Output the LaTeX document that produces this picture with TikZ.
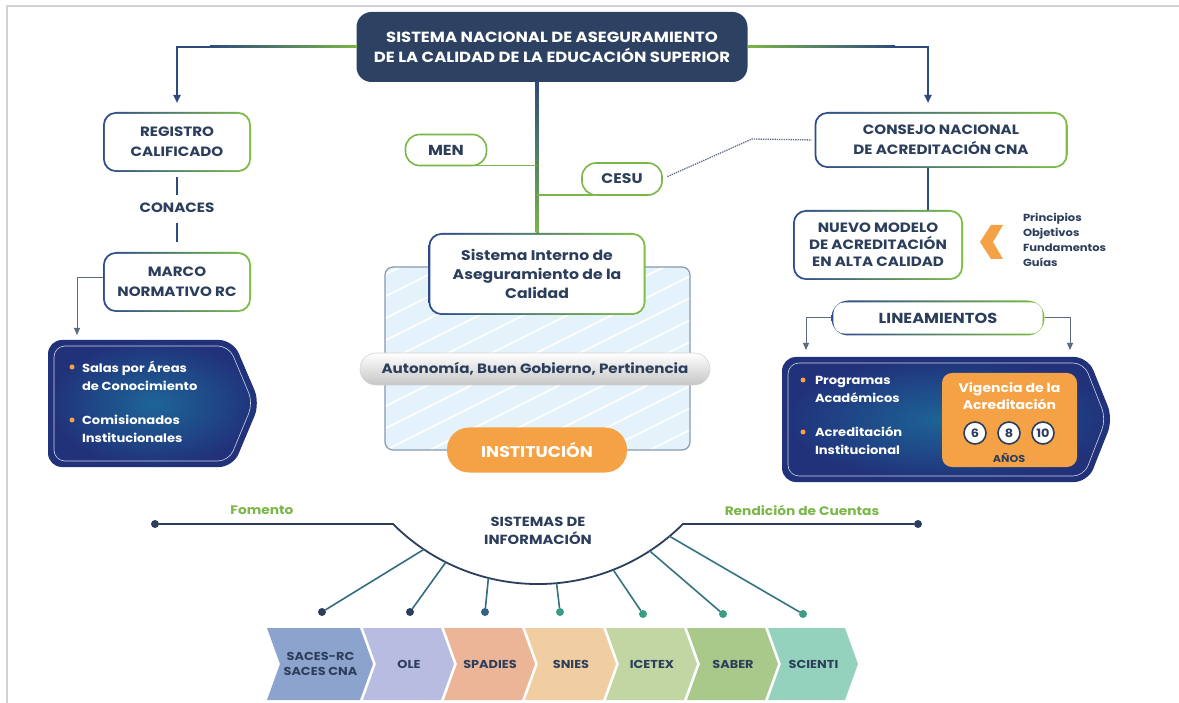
\documentclass[tikz,border=0pt]{standalone}
\usepackage{fontspec}
\setmainfont{Poppins}[FakeStretch=1.12]
\usetikzlibrary{calc,arrows.meta}
\definecolor{navy}{HTML}{2C3E5C}
\definecolor{titlebg}{HTML}{2D4262}
\definecolor{bnavy}{HTML}{2E4A8E}
\definecolor{bgreen}{HTML}{7DC043}
\definecolor{lgreen}{HTML}{7AB648}
\definecolor{orng}{HTML}{F5A246}
\definecolor{hatchc}{HTML}{E4F2FB}
\definecolor{hborder}{HTML}{8799B2}
\definecolor{pdark}{HTML}{21317A}
\definecolor{plight}{HTML}{1D6597}
\definecolor{tealc}{HTML}{3A9E85}
\definecolor{arrc}{HTML}{5B6B82}
\definecolor{linec}{HTML}{2E4A7E}
\definecolor{c1}{HTML}{8CA4CD}
\definecolor{c2}{HTML}{B8BCE0}
\definecolor{c3}{HTML}{EDB598}
\definecolor{c4}{HTML}{F0CEA2}
\definecolor{c5}{HTML}{C1D6A3}
\definecolor{c6}{HTML}{A9C98A}
\definecolor{c7}{HTML}{95D2BE}
\tikzset{
  gbox/.style={rounded corners=13pt, left color=bnavy, right color=bgreen,
    path picture={\fill[white,rounded corners=11.5pt]
      ([shift={(1.8pt,-1.8pt)}]path picture bounding box.north west) rectangle
      ([shift={(-1.8pt,1.8pt)}]path picture bounding box.south east);},
    text=navy, align=center, font=\bfseries\fontsize{13.5}{20}\selectfont},
  titlebox/.style={fill=titlebg, rounded corners=15pt, text=white, align=center,
    font=\bfseries\fontsize{14.7}{20}\selectfont, minimum width=391pt, minimum height=70pt},
  gpill/.style={draw=lgreen, line width=1.6pt, fill=white, rounded corners=14pt,
    text=navy, font=\bfseries\fontsize{14}{16}\selectfont},
  greypill/.style={rounded corners=16pt, top color=white, bottom color=gray!45,
    draw=gray!35, line width=0.6pt, text=navy, minimum width=350pt, minimum height=32pt,
    font=\bfseries\fontsize{13.5}{16}\selectfont},
  arr/.style={draw=arrc, line width=1pt, -{Triangle[length=7pt,width=6pt]}},
  mainline/.style={draw=linec, line width=2pt},
  btext/.style={text=white, align=left, anchor=west, font=\bfseries\fontsize{11.7}{18}\selectfont},
  bdot/.style={circle, fill=orng, minimum size=5pt},
  sdot/.style={circle, minimum size=8pt},
  chevtxt/.style={text=navy, align=center, font=\bfseries\fontsize{11.5}{15}\selectfont},
  ringnum/.style={circle, draw=navy, line width=1.6pt, fill=white, minimum size=22pt,
    text=navy, font=\bfseries\fontsize{11.5}{12}\selectfont},
  every node/.append style={inner sep=0pt, outer sep=0pt}
}
\begin{document}
\begin{tikzpicture}[x=1pt,y=-1pt]
\useasboundingbox (0,0) rectangle (1179,703);
\fill[white] (0,0) rectangle (1179,703);
\draw[gray!35, line width=1.2pt] (7,703) -- (7,6) -- (1179,6);

% hatched institution area
\begin{scope}
\clip[rounded corners=8pt] (385,267) rectangle (690,450);
\fill[hatchc] (385,267) rectangle (690,450);
\foreach \i in {0,...,20} \draw[white, line width=1.6pt] (370,260+\i*22) -- ++(420,-210);
\end{scope}
\draw[hborder, line width=1.2pt, rounded corners=8pt] (385,267) rectangle (690,450);

% left pentagon
\shade[inner color=plight, outer color=pdark, rounded corners=14pt]
  (48,340) -- (233,340) -- (260,403) -- (233,467) -- (48,467) -- cycle;
\draw[white, line width=0.6pt, opacity=0.8, rounded corners=11pt]
  (54,346) -- (229,346) -- (253,403) -- (229,461) -- (54,461) -- cycle;
\node[bdot] at (72,367) {};
\node[bdot] at (72,420) {};
\node[btext] (salas) at (82,376) {Salas por Áreas\\de Conocimiento};
\node[btext] (comis) at (82,429) {Comisionados\\Institucionales};
\coordinate (salasin) at (77,340);

% right pentagon
\shade[inner color=plight, outer color=pdark, rounded corners=14pt]
  (782,357) -- (1088,357) -- (1113,419) -- (1088,482) -- (782,482) -- cycle;
\draw[white, line width=0.6pt, opacity=0.8, rounded corners=11pt]
  (788,363) -- (1084,363) -- (1106,419) -- (1084,476) -- (788,476) -- cycle;
\node[bdot] at (803,380) {};
\node[bdot] at (803,432) {};
\node[btext] (prog) at (815,389) {Programas\\Académicos};
\node[btext] (acred) at (815,441) {Acreditación\\Institucional};
\node[fill=orng, rounded corners=10pt, minimum width=135pt, minimum height=94pt] (vig) at (1009.5,420) {};
\node[text=white, align=center, font=\bfseries\fontsize{12.5}{17}\selectfont] (vigt) at (1009.5,396) {Vigencia de la\\Acreditación};
\node[ringnum] (r6) at (975,433) {6};
\node[ringnum] (r8) at (1009,433) {8};
\node[ringnum] (r10) at (1043,433) {10};
\node[text=navy, font=\bfseries\fontsize{10}{11}\selectfont] (anos) at (1009,458) {AÑOS};

% main nodes
\node[titlebox] (title) at (552,47) {SISTEMA NACIONAL DE ASEGURAMIENTO\\DE LA CALIDAD DE LA EDUCACIÓN SUPERIOR};
\node[gbox, minimum width=148pt, minimum height=60pt] (reg) at (177,142) {REGISTRO\\CALIFICADO};
\node[text=navy, font=\bfseries\fontsize{13.5}{16}\selectfont] (conaces) at (177,208) {CONACES};
\node[gbox, minimum width=148pt, minimum height=60pt] (marco) at (177,282) {MARCO\\NORMATIVO RC};
\node[gpill, minimum width=81pt, minimum height=31pt, font=\bfseries\fontsize{14.5}{16}\selectfont] (men) at (446,150) {MEN};
\node[gpill, minimum width=80pt, minimum height=32pt] (cesu) at (622,179) {CESU};
\node[gbox, minimum width=217pt, minimum height=82pt, font=\bfseries\fontsize{14}{19}\selectfont] (sib) at (537,274) {Sistema Interno de\\Aseguramiento de la\\Calidad};
\node[greypill] (auto) at (535,369) {Autonomía, Buen Gobierno, Pertinencia};
\node[fill=orng, rounded corners=22pt, minimum width=180pt, minimum height=45pt, text=white,
  font=\bfseries\fontsize{15.5}{16}\selectfont] (inst) at (537,450) {INSTITUCIÓN};
\node[gbox, minimum width=253pt, minimum height=56pt] (cna) at (941,140) {CONSEJO NACIONAL\\DE ACREDITACIÓN CNA};
\node[gbox, minimum width=170pt, minimum height=70pt, font=\bfseries\fontsize{13.5}{17}\selectfont] (nuevo) at (878,245) {NUEVO MODELO\\DE ACREDITACIÓN\\EN ALTA CALIDAD};
\fill[orng] (1003,225) -- (991,225) -- (980,242) -- (991,259) -- (1003,259) -- (993,242) -- cycle;
\node[text=navy, align=left, anchor=north west, font=\bfseries\fontsize{10.3}{15}\selectfont] (princ) at (1023,213) {Principios\\Objetivos\\Fundamentos\\Guías};
\node[gbox, rounded corners=17pt, minimum width=213pt, minimum height=35pt, font=\bfseries\fontsize{14.5}{16}\selectfont] (lin) at (938,318) {LINEAMIENTOS};

% connectors
\draw[mainline, -{Triangle[length=8pt,width=7pt]}, shorten >=9pt] (title.west) -| (reg.north);
\shade[left color=linec, right color=lgreen] (210,46) rectangle (357,48);
\draw[mainline, -{Triangle[length=8pt,width=7pt]}, shorten >=9pt] (title.east) -| ([xshift=-13pt]cna.north);
\shade[left color=lgreen, right color=linec] (748,46) rectangle (895,48);
\draw[draw=linec, line width=3pt] (sib.north |- title.south) -- (sib.north);
\shade[top color=linec, bottom color=lgreen] (535.5,82) rectangle (538.5,233);
\draw[lgreen, line width=1.6pt] ([xshift=-16pt]men.south east) -- (men.south east -| sib.north);
\draw[lgreen, line width=1.6pt] ([xshift=12pt]cesu.south west) -- (cesu.south west -| sib.north);
\coordinate (dotc) at (752,139);
\draw[arrc, line width=1.3pt, densely dotted, shorten <=6pt, shorten >=3pt] (cesu.east) -- (dotc) -- (cna.west);
\draw[linec, line width=1.2pt, shorten <=5pt, shorten >=8pt] (reg.south) -- (conaces.north);
\draw[linec, line width=1.2pt, shorten <=10pt, shorten >=10pt] (conaces.south) -- (marco.north);
\draw[arr, shorten >=5pt] ([yshift=4pt]marco.west) -| (salasin);
\draw[linec, line width=1.5pt] ([xshift=-13pt]cna.south) -- ([xshift=-13pt]cna.south |- nuevo.north);
\coordinate (lA) at (806,350);
\coordinate (lB) at (1070,350);
\draw[arr] (lin.west) -| (lA);
\draw[arr] (lin.east) -| (lB);

% information systems
\coordinate (C) at (538,379);
\node[sdot, fill=navy] (dL) at (155,524) {};
\node[sdot, fill=navy] (dR) at (918,524) {};
\draw[navy, line width=1.8pt] (dL) -- (393,524) arc[start angle=135, end angle=45, radius=205] -- (dR);
\foreach \a/\x/\y/\dc/\lc [count=\k] in {123.8/322/612/navy/linec!60!tealc, 116.7/410/612/navy/linec!60!tealc,
  104/485/612/linec!70!tealc/linec!60!tealc, 84.8/560/612/tealc/linec!50!tealc,
  68.5/643/614/tealc/linec!50!tealc, 57/723/614/tealc/linec!50!tealc, 50.1/803/614/tealc/linec!50!tealc} {
  \node[sdot, fill=\dc] (s\k) at (\x,\y) {};
  \draw[\lc, line width=1.6pt] ($(C)+(\a:205)$) -- (s\k);
}
\node[text=lgreen, font=\bfseries\fontsize{12.3}{13}\selectfont] (fom) at (262,510) {Fomento};
\node[text=lgreen, font=\bfseries\fontsize{12.3}{13}\selectfont] (rend) at (802,510) {Rendición de Cuentas};
\node[text=navy, align=center, font=\bfseries\fontsize{13.2}{18}\selectfont] (sisinf) at (538,531) {SISTEMAS DE\\INFORMACIÓN};

\foreach \L/\R/\c/\t [count=\k] in {267/360/c1/{SACES-RC\\SACES CNA}, 363/441/c2/OLE, 444/522/c3/SPADIES,
  525/603/c4/SNIES, 606/684/c5/ICETEX, 687/765/c6/SABER, 768/845/c7/SCIENTI} {
  \fill[\c] (\L,628) -- (\R,628) -- (\R+13,664) -- (\R,700) -- (\L,700) -- (\L+13,664) -- cycle;
  \node[chevtxt] (chev\k) at ({(\L+\R)/2+7},664) {\t};
}
\end{tikzpicture}
\end{document}
